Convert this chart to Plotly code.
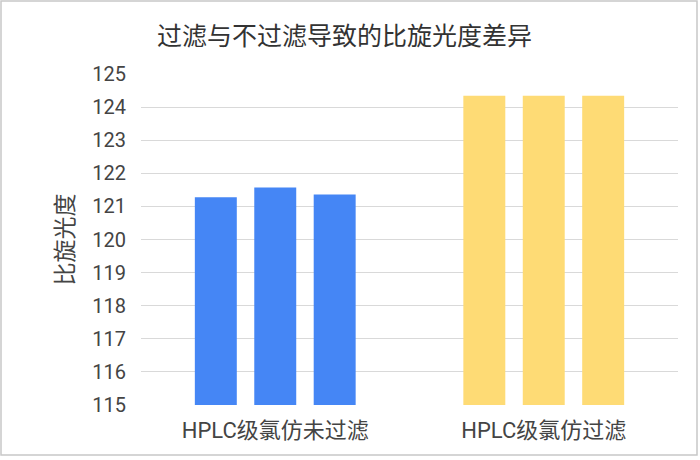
import plotly.graph_objects as go

categories = ["HPLC级氯仿未过滤", "HPLC级氯仿过滤"]
rep1 = [121.28, 124.34]
rep2 = [121.57, 124.34]
rep3 = [121.36, 124.34]
bar_colors = ["#4586F5", "#FEDB75"]
yticks = list(range(115, 126))

fig = go.Figure()
for vals in (rep1, rep2, rep3):
    fig.add_trace(go.Bar(
        x=categories, y=vals,
        marker=dict(color=bar_colors, line=dict(width=0)),
        showlegend=False,
    ))

W, H = 700, 460
L, R, T, B = 141, 22, 74, 55
pw, ph = W - L - R, H - T - B

fig.update_layout(
    width=W, height=H,
    margin=dict(l=L, r=R, t=T, b=B),
    paper_bgcolor="white", plot_bgcolor="white",
    barmode="group", bargap=0.336, bargroupgap=0.294,
    font=dict(family="Roboto, 'Noto Sans CJK SC', sans-serif", color="#444444", size=19),
    title=dict(text="过滤与不过滤导致的比旋光度差异", x=(344.5) / W, xanchor="center",
               y=1 - 36 / H, yanchor="middle",
               font=dict(size=25, color="#333333", family="'Noto Sans CJK SC', sans-serif")),
    xaxis=dict(showline=False, ticks="", ticklabelstandoff=10,
               tickfont=dict(size=22, color="#444444",
                             family="Roboto, 'Noto Sans CJK SC', sans-serif")),
    yaxis=dict(range=[115, 125], tickvals=yticks, showgrid=True, gridcolor="#D9D9D9",
               gridwidth=1.2, zeroline=False, showline=False, ticks="",
               ticklabelstandoff=14,
               tickfont=dict(size=20, color="#444444"),
               title=dict(text="比旋光度", standoff=12,
                          font=dict(size=23, color="#444444",
                                    family="'Noto Sans CJK SC', sans-serif"))),
    shapes=[dict(type="rect", xref="paper", yref="paper",
                 x0=(1 - L) / pw, x1=(697 - L) / pw,
                 y0=(H - B - 455) / ph, y1=(H - B - 1) / ph,
                 line=dict(color="#C8C8C8", width=1.5), layer="below")],
)

fig.write_html("out.html", config={"displayModeBar": False},
               post_script="document.body.style.margin='0';document.body.style.overflow='hidden';")
